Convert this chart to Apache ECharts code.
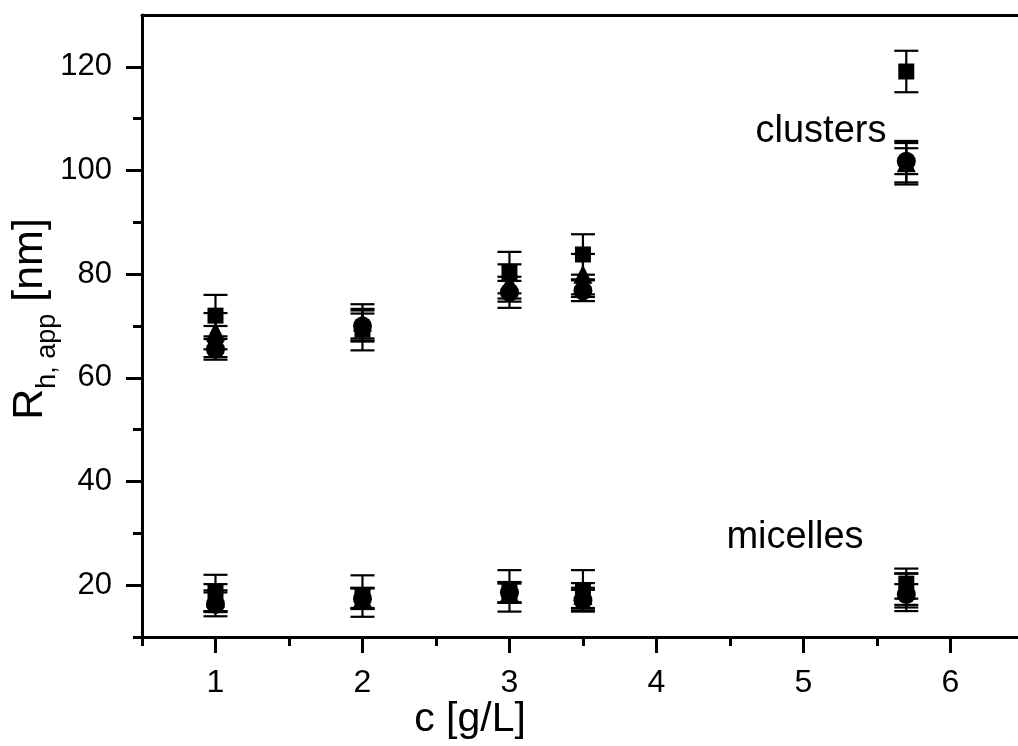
<!DOCTYPE html>
<html>
<head>
<meta charset="utf-8">
<script src="https://cdn.jsdelivr.net/npm/echarts@6/dist/echarts.min.js"></script>
<style>html,body{margin:0;padding:0;background:#fff;}#c{width:1018px;height:746px;}</style>
</head>
<body>
<div id="c"></div>
<script>
// x values (concentration, g/L)
const conc = [1, 2, 3, 3.5, 5.7];
// clusters (upper group)
const sqClusters   = [72, 69.3, 80.3, 83.8, 119.1];
const sqClustersErr = [4, 4, 4, 3.9, 4];
const triClusters  = [69, 70.7, 78.3, 80, 101.5];
const triClustersErr = [3.5, 3.5, 3.6, 3.9, 3.8];
const cirClusters  = [65.5, 70, 76.5, 76.8, 101.8];
const cirClustersErr = [2, 2.4, 3, 2, 2.5];
const diaClusters  = [67, 70, 77, 77.3, 101.5];
const diaClustersErr = [3, 3, 1.7, 1.7, 4.2];
// micelles (lower group)
const sqMicelles   = [18.5, 17.9, 18.9, 18.9, 20.3];
const sqMicellesErr = [3.5, 4, 4, 4, 2.9];
const triMicelles  = [17.5, 17.5, 18.6, 18, 19];
const triMicellesErr = [2.7, 2, 2, 2.4, 3.3];
const cirMicelles  = [16.3, 17.4, 18.6, 17.1, 18.2];
const cirMicellesErr = [2.3, 2, 2, 2, 2];
const diaMicelles  = [17, 17.5, 18.5, 17.5, 18.6];
const diaMicellesErr = [2, 1.9, 1.8, 2, 3.6];
// ticks
const xMajor = [1, 2, 3, 4, 5, 6];
const xMinor = [0.5, 1.5, 2.5, 3.5, 4.5, 5.5];
const yMajor = [20, 40, 60, 80, 100, 120];
const yMinor = [10, 30, 50, 70, 90, 110];

const FONT = 'Liberation Sans, Arial, sans-serif';

function pts(ys) { return conc.map((x, i) => [x, ys[i]]); }
function errPts(ys, es) { return conc.map((x, i) => [x, ys[i] - es[i], ys[i] + es[i]]); }

function errSeries(ys, es) {
  return {
    type: 'custom',
    xAxisIndex: 0, yAxisIndex: 0,
    data: errPts(ys, es),
    z: 1,
    silent: true,
    renderItem: function (params, api) {
      const x = api.value(0);
      const lo = api.coord([x, api.value(1)]);
      const hi = api.coord([x, api.value(2)]);
      const hw = 12;
      const st = { stroke: '#000', lineWidth: 2.2 };
      return {
        type: 'group',
        children: [
          { type: 'line', shape: { x1: lo[0], y1: lo[1], x2: hi[0], y2: hi[1] }, style: st },
          { type: 'line', shape: { x1: lo[0] - hw, y1: lo[1], x2: lo[0] + hw, y2: lo[1] }, style: st },
          { type: 'line', shape: { x1: hi[0] - hw, y1: hi[1], x2: hi[0] + hw, y2: hi[1] }, style: st }
        ]
      };
    }
  };
}
function sc(ys, symbol, size) {
  return {
    type: 'scatter', data: pts(ys), symbol: symbol, symbolSize: size,
    itemStyle: { color: '#000', opacity: 1 }, z: 3, silent: true
  };
}

const X_MIN = 0.5, X_MAX = 6.46;
const chart = echarts.init(document.getElementById('c'), null, { renderer: 'canvas' });
const option = {
  animation: false,
  backgroundColor: '#fff',
  grid: { left: 142, right: 0, top: 15, bottom: 109, show: false },
  xAxis: [
    {
      type: 'value', min: X_MIN, max: X_MAX, position: 'bottom',
      axisLine: { show: true, onZero: false, lineStyle: { color: '#000', width: 3 } },
      axisTick: { show: true, inside: false, length: 16, lineStyle: { color: '#000', width: 3 }, customValues: xMajor },
      axisLabel: { show: true, margin: 30, color: '#000', fontSize: 32, fontFamily: FONT, customValues: xMajor },
      splitLine: { show: false }
    },
    {
      type: 'value', min: X_MIN, max: X_MAX, position: 'bottom',
      axisLine: { show: false },
      axisTick: { show: true, inside: false, length: 9, lineStyle: { color: '#000', width: 3 }, customValues: xMinor },
      axisLabel: { show: false },
      splitLine: { show: false }
    },
    {
      type: 'value', min: X_MIN, max: X_MAX, position: 'top',
      axisLine: { show: true, onZero: false, lineStyle: { color: '#000', width: 3 } },
      axisTick: { show: false }, axisLabel: { show: false }, splitLine: { show: false }
    }
  ],
  yAxis: [
    {
      type: 'value', min: 10, max: 130, position: 'left',
      axisLine: { show: true, onZero: false, lineStyle: { color: '#000', width: 3 } },
      axisTick: { show: true, inside: false, length: 16, lineStyle: { color: '#000', width: 3 }, customValues: yMajor },
      axisLabel: { show: true, margin: 30, color: '#000', fontSize: 31, fontFamily: FONT, customValues: yMajor },
      splitLine: { show: false }
    },
    {
      type: 'value', min: 10, max: 130, position: 'left',
      axisLine: { show: false },
      axisTick: { show: true, inside: false, length: 9, lineStyle: { color: '#000', width: 3 }, customValues: yMinor },
      axisLabel: { show: false },
      splitLine: { show: false }
    }
  ],
  graphic: [
    { type: 'text', x: 470, y: 720, style: { text: 'c [g/L]', font: '41px ' + FONT, fill: '#000', textAlign: 'center', textVerticalAlign: 'middle' } },
    { type: 'text', x: 28, y: 319, rotation: Math.PI / 2,
      style: {
        text: '{r|R}{s|h, app}{r| [nm]}',
        textAlign: 'center', textVerticalAlign: 'middle', fill: '#000',
        rich: {
          r: { fontSize: 43, fontFamily: FONT, fill: '#000', verticalAlign: 'bottom', lineHeight: 48 },
          s: { fontSize: 27, fontFamily: FONT, fill: '#000', verticalAlign: 'bottom', lineHeight: 48, padding: [0, 0, -9, 0] }
        }
      } },
    { type: 'text', x: 821, y: 132, style: { text: 'clusters', font: '38px ' + FONT, fill: '#000', textAlign: 'center', textVerticalAlign: 'middle' } },
    { type: 'text', x: 795, y: 538, style: { text: 'micelles', font: '38px ' + FONT, fill: '#000', textAlign: 'center', textVerticalAlign: 'middle' } }
  ],
  series: [
    errSeries(diaClusters, diaClustersErr), errSeries(triClusters, triClustersErr),
    errSeries(cirClusters, cirClustersErr), errSeries(sqClusters, sqClustersErr),
    errSeries(diaMicelles, diaMicellesErr), errSeries(triMicelles, triMicellesErr),
    errSeries(cirMicelles, cirMicellesErr), errSeries(sqMicelles, sqMicellesErr),
    sc(diaClusters, 'diamond', 18), sc(cirClusters, 'circle', 19),
    sc(triClusters, 'triangle', 19), sc(sqClusters, 'rect', 16),
    sc(diaMicelles, 'diamond', 18), sc(triMicelles, 'triangle', 19),
    sc(sqMicelles, 'rect', 16), sc(cirMicelles, 'circle', 19)
  ]
};
chart.setOption(option);
</script>
</body>
</html>
